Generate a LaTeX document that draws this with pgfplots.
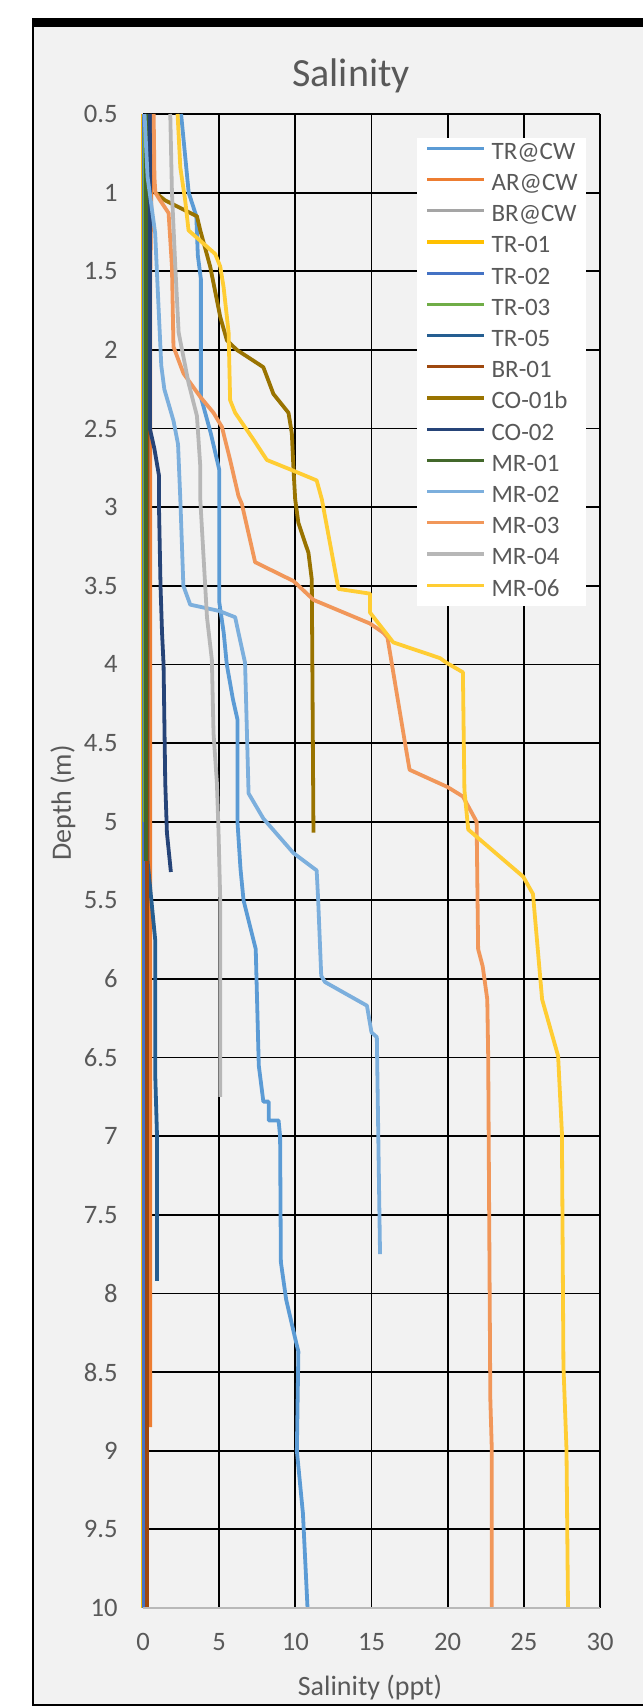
\documentclass[border=0pt]{standalone}
\usepackage{fontspec}
\setmainfont{Carlito}
\usepackage{pgfplots}
\pgfplotsset{compat=1.18}
\definecolor{txt}{HTML}{595959}
\definecolor{bg}{HTML}{F2F2F2}
\definecolor{cTRCW}{HTML}{5B9BD5}
\definecolor{cARCW}{HTML}{ED7D31}
\definecolor{cBRCW}{HTML}{A5A5A5}
\definecolor{cTRa}{HTML}{FFC000}
\definecolor{cTRb}{HTML}{4472C4}
\definecolor{cTRc}{HTML}{70AD47}
\definecolor{cTRe}{HTML}{255E91}
\definecolor{cBRa}{HTML}{9E480E}
\definecolor{cCOa}{HTML}{997300}
\definecolor{cCOb}{HTML}{264478}
\definecolor{cMRa}{HTML}{43682B}
\definecolor{cMRb}{HTML}{7CAFDD}
\definecolor{cMRc}{HTML}{F1975A}
\definecolor{cMRd}{HTML}{B7B7B7}
\definecolor{cMRf}{HTML}{FFCD33}
\begin{document}
\begin{tikzpicture}
\useasboundingbox (0pt,0pt) rectangle (321.5pt,853pt);
\fill[white] (0pt,0pt) rectangle (321.5pt,853pt);
\fill[bg] (16.5pt,0.5pt) rectangle (321.5pt,843pt);
\fill[black] (16pt,839.5pt) rectangle (321.5pt,844pt);
\fill[black] (16pt,0pt) rectangle (17pt,844pt);
\fill[black] (16pt,0pt) rectangle (321.5pt,1.2pt);
\begin{axis}[
  at={(71.5pt,796pt)}, anchor=north west,
  scale only axis, width=228.5pt, height=747pt,
  xmin=0, xmax=30, ymin=0.5, ymax=10, y dir=reverse,
  clip=false,
  xtick={0,5,10,15,20,25,30},
  ytick={0.5,1,1.5,2,2.5,3,3.5,4,4.5,5,5.5,6,6.5,7,7.5,8,8.5,9,9.5,10},
  grid=major, major grid style={black, line width=0.9pt},
  axis line style={draw=none},
  major tick length=0pt,
  /pgf/number format/assume math mode=true,
  tick label style={font=\fontsize{13.3}{16}\selectfont, text=txt, inner sep=0pt},
  yticklabel style={anchor=east, xshift=-12.5pt},
  xticklabel style={anchor=north, yshift=-12.5pt},
  every axis plot/.append style={line width=1.9pt, no markers, line join=round},
  legend cell align=left,
  legend image code/.code={\draw[#1, line width=1.6pt] (0pt,0.28em) -- (28.5pt,0.28em);},
  legend style={at={(axis description cs:0.5996,0.9839)}, anchor=north west,
    fill=white, draw=none, inner xsep=4pt, inner ysep=0pt,
    font=\fontsize{12.5}{14}\selectfont, text=txt, row sep=0pt,
    nodes={inner sep=0pt, text height=10.4pt, text depth=5.2pt},
    /tikz/every odd column/.append style={column sep=3pt}},
]
\addplot[cTRCW] coordinates {(2.5,0.5) (3.0,1.0) (3.5,1.15) (3.6,1.4) (3.8,1.55) (3.8,2.3) (4.45,2.53) (5.0,2.76) (5.0,3.0) (5.0,3.6) (5.3,3.8) (5.5,4.0) (5.9,4.22) (6.2,4.35) (6.2,5.0) (6.4,5.3) (6.6,5.5) (7.4,5.81) (7.6,6.55) (7.9,6.78) (8.25,6.78) (8.25,6.9) (8.9,6.9) (9.0,7.0) (9.05,7.8) (9.4,8.04) (10.0,8.29) (10.2,8.37) (10.1,9.0) (10.5,9.4) (10.8,10.0)};
\addlegendentry{TR@CW}
\addplot[cARCW] coordinates {(0.6,0.5) (0.55,1.0) (0.48,1.5) (0.48,8.85)};
\addlegendentry{AR@CW}
\addplot[cBRCW] coordinates {(0.1,0.5) (0.1,9.5)};
\addlegendentry{BR@CW}
\addplot[cTRa] coordinates {(0.02,0.5) (0.02,10.0)};
\addlegendentry{TR-01}
\addplot[cTRb] coordinates {(0.05,0.5) (0.05,10.0)};
\addlegendentry{TR-02}
\addplot[cTRc] coordinates {(0.12,0.5) (0.12,5.0)};
\addlegendentry{TR-03}
\addplot[cTRe] coordinates {(0.3,0.5) (0.3,5.25) (0.5,5.45) (0.8,5.75) (0.8,6.6) (0.92,7.0) (0.92,7.92)};
\addlegendentry{TR-05}
\addplot[cBRa] coordinates {(0.25,0.5) (0.25,10.0)};
\addlegendentry{BR-01}
\addplot[cCOa] coordinates {(0.81,1.0) (1.46,1.05) (3.54,1.15) (3.76,1.24) (4.41,1.47) (5.07,1.79) (5.51,1.94) (6.16,2.0) (7.9,2.11) (8.56,2.28) (9.55,2.4) (9.77,2.53) (9.88,2.76) (9.99,2.95) (10.2,3.1) (10.86,3.29) (11.08,3.46) (11.19,5.07)};
\addlegendentry{CO-01b}
\addplot[cCOb] coordinates {(0.45,0.5) (0.45,2.5) (0.75,2.63) (1.05,2.8) (1.05,3.0) (1.15,3.5) (1.25,3.8) (1.35,4.0) (1.46,4.75) (1.57,5.07) (1.83,5.32)};
\addlegendentry{CO-02}
\addplot[cMRa] coordinates {(0.2,0.5) (0.2,5.25)};
\addlegendentry{MR-01}
\addplot[cMRb] coordinates {(0.1,0.5) (0.3,0.9) (0.8,1.26) (0.95,1.58) (1.2,2.1) (1.4,2.25) (2.0,2.45) (2.3,2.6) (2.45,2.95) (2.65,3.5) (3.1,3.62) (5.0,3.66) (6.05,3.7) (6.27,3.8) (6.7,3.99) (6.93,4.82) (7.9,4.98) (9.88,5.2) (11.4,5.31) (11.5,5.5) (11.7,5.98) (11.95,6.02) (14.7,6.17) (15.0,6.34) (15.35,6.37) (15.56,7.75)};
\addlegendentry{MR-02}
\addplot[cMRc] coordinates {(0.7,0.5) (0.75,0.9) (0.81,1.0) (1.13,1.05) (1.68,1.13) (1.9,1.47) (2.0,1.98) (2.66,2.15) (3.77,2.3) (4.63,2.4) (5.18,2.49) (5.72,2.7) (6.27,2.93) (6.49,2.98) (7.36,3.35) (9.88,3.47) (11.2,3.59) (14.9,3.74) (15.8,3.8) (16.05,3.83) (17.2,4.5) (17.5,4.67) (20.0,4.78) (21.0,4.84) (21.9,5.0) (22.0,5.81) (22.3,5.92) (22.6,6.13) (22.66,6.49) (22.8,8.67) (22.9,9.0) (22.9,10.0)};
\addlegendentry{MR-03}
\addplot[cMRd] coordinates {(1.79,0.5) (1.9,1.0) (2.12,1.47) (2.34,1.89) (2.99,2.21) (3.54,2.42) (3.76,2.74) (3.76,2.95) (4.2,3.7) (4.52,3.97) (4.63,4.44) (4.85,4.75) (4.96,5.07) (5.07,5.5) (5.07,6.75)};
\addlegendentry{MR-04}
\addplot[cMRf] coordinates {(2.27,0.5) (2.45,0.84) (2.77,1.05) (2.99,1.24) (4.74,1.39) (5.07,1.47) (5.29,1.6) (5.62,1.89) (5.72,2.32) (6.05,2.4) (7.25,2.57) (8.13,2.7) (9.66,2.76) (11.4,2.83) (11.74,2.95) (12.83,3.52) (14.9,3.55) (14.9,3.67) (16.43,3.86) (19.5,3.96) (19.93,3.99) (21.0,4.05) (21.1,4.8) (21.35,5.05) (24.96,5.35) (25.6,5.46) (26.2,6.13) (27.25,6.49) (27.5,6.98) (27.6,8.46) (27.8,8.99) (27.9,10.0)};
\addlegendentry{MR-06}
\draw[gray!55, line width=0.9pt] (axis cs:0,10) -- (axis cs:30,10);
\end{axis}
\node[anchor=center, inner sep=0pt, text=txt, font=\fontsize{20}{24}\selectfont] at (175.5pt,815pt) {Salinity};
\node[anchor=center, inner sep=0pt, text=txt, font=\fontsize{14}{17}\selectfont] at (185pt,9pt) {Salinity (ppt)};
\node[anchor=center, rotate=90, inner sep=0pt, text=txt, font=\fontsize{14}{17}\selectfont] at (31.5pt,451.5pt) {Depth (m)};
\end{tikzpicture}
\end{document}
